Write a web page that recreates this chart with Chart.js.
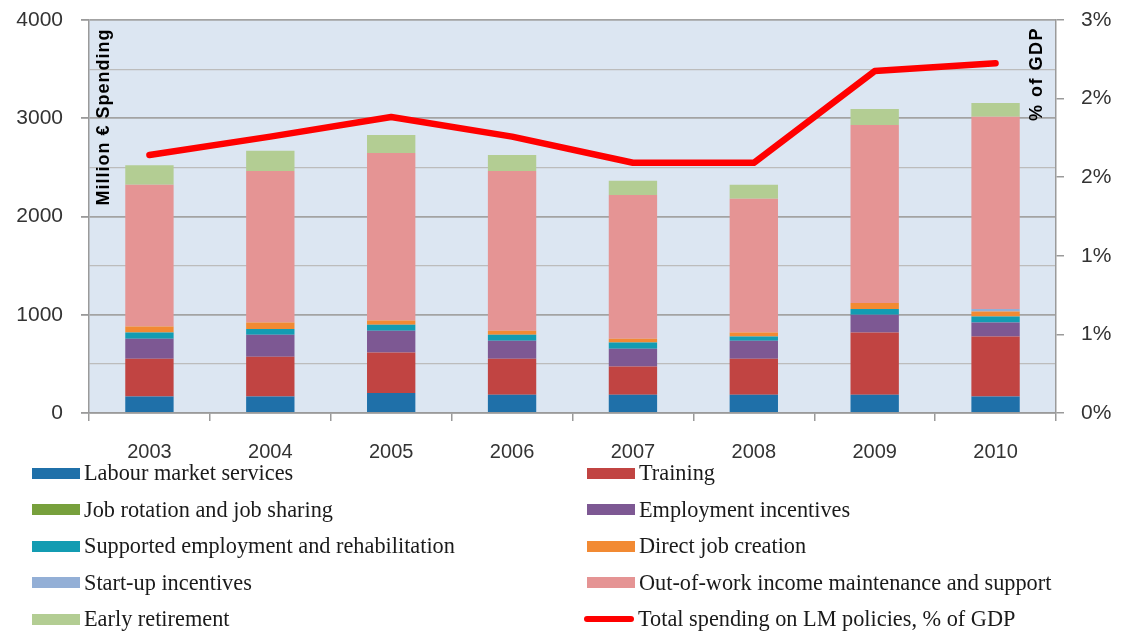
<!DOCTYPE html>
<html>
<head>
<meta charset="utf-8">
<script src="https://cdn.jsdelivr.net/npm/chart.js@4"></script>
<style>
  html, body { margin: 0; padding: 0; background: #fff; }
  #wrap { position: relative; width: 1121px; height: 632px; overflow: hidden; }
  #chart { position: absolute; left: 0; top: 0; }
  #legend { position: absolute; left: 0; top: 455px; width: 1121px; height: 177px;
            font-family: "Liberation Serif", "Times New Roman", serif; font-size: 22.3px; color: #1a1a1a; }
  .item { position: absolute; height: 36px; display: flex; align-items: center; white-space: nowrap; }
  .box { display: inline-block; width: 48px; height: 11px; margin-right: 4px; }
  .ln { display: inline-block; width: 50px; height: 6px; border-radius: 3px; margin-right: 4px; }
</style>
</head>
<body>
<div id="wrap">
  <canvas id="chart" width="1121" height="470"></canvas>
  <div id="legend"></div>
</div>
<script>
// 年份
const years = ['2003', '2004', '2005', '2006', '2007', '2008', '2009', '2010'];

// 各類支出 (百萬歐元)，由下往上堆疊
const labourMarketServices = [169, 169, 203, 186, 186, 186, 186, 169];
const training             = [383, 404, 413, 366, 288, 366, 634, 610];
const jobRotation          = [0, 0, 0, 0, 0, 0, 0, 0];
const employmentIncentives = [204, 223, 221, 183, 180, 183, 180, 142];
const supportedEmployment  = [64, 58, 61, 61, 64, 44, 58, 61];
const directJobCreation    = [61, 67, 44, 41, 38, 41, 61, 51];
const startUpIncentives    = [0, 0, 0, 0, 0, 0, 0, 25];
const outOfWorkIncome      = [1441, 1543, 1705, 1627, 1464, 1360, 1813, 1958];
const earlyRetirement      = [200, 204, 183, 163, 143, 142, 163, 140];

// 總支出占 GDP 百分比 (右軸)
const totalPctGdp = [1.97, 2.11, 2.26, 2.11, 1.91, 1.91, 2.61, 2.67];

// 軸刻度
const leftTicks = [0, 500, 1000, 1500, 2000, 2500, 3000, 3500, 4000];
const rightTicks = [0, 0.6, 1.2, 1.8, 2.4, 3.0];

const barSeries = [
  ['Labour market services', labourMarketServices, '#1f70a9'],
  ['Training', training, '#c14442'],
  ['Job rotation and job sharing', jobRotation, '#77a03c'],
  ['Employment incentives', employmentIncentives, '#7d5893'],
  ['Supported employment and rehabilitation', supportedEmployment, '#139cb2'],
  ['Direct job creation', directJobCreation, '#f28a33'],
  ['Start-up incentives', startUpIncentives, '#93afd6'],
  ['Out-of-work income maintenance and support', outOfWorkIncome, '#e59494'],
  ['Early retirement', earlyRetirement, '#b3cd93']
];

const datasets = barSeries.map(([label, data, color]) => ({
  type: 'bar', label: label, data: data, backgroundColor: color,
  yAxisID: 'y', stack: 's', order: 1,
  barPercentage: 0.4, categoryPercentage: 1
}));
datasets.push({
  type: 'line', label: 'Total spending on LM policies, % of GDP', data: totalPctGdp,
  borderColor: '#ff0000', backgroundColor: '#ff0000', borderWidth: 6.5,
  borderCapStyle: 'round', borderJoinStyle: 'round',
  pointRadius: 0, tension: 0, yAxisID: 'y1', order: 0
});

// 畫區背景 + 軸內標題
function vText(ctx, txt, x, y, spacing) {
  ctx.save();
  ctx.fillStyle = '#000';
  ctx.font = 'bold 18px "Liberation Sans", Arial, sans-serif';
  ctx.letterSpacing = spacing + 'px';
  ctx.textAlign = 'center';
  ctx.textBaseline = 'middle';
  ctx.translate(x, y);
  ctx.rotate(-Math.PI / 2);
  ctx.fillText(txt, 0, 0);
  ctx.restore();
}

const plotDeco = {
  id: 'plotDeco',
  beforeDraw(chart) {
    const { ctx, chartArea: a } = chart;
    ctx.save();
    ctx.fillStyle = '#dce6f2';
    ctx.fillRect(a.left, a.top, a.right - a.left, a.bottom - a.top);
    ctx.restore();
  },
  afterDatasetsDraw(chart) {
    vText(chart.ctx, 'Million € Spending', 104, 117, 1);
    vText(chart.ctx, '% of GDP', 1037, 74, 1.5);
  }
};

const tickFont = { family: '"Liberation Sans", Arial, sans-serif', size: 21 };

const chart = new Chart(document.getElementById('chart'), {
  data: { labels: years, datasets: datasets },
  plugins: [plotDeco],
  options: {
    responsive: false,
    animation: false,
    layout: { padding: { top: 20, left: 0, right: 0, bottom: 0 } },
    plugins: { legend: { display: false }, tooltip: { enabled: false } },
    scales: {
      x: {
        stacked: true,
        offset: true,
        grid: { offset: true, drawOnChartArea: false, tickLength: 8, color: '#9a9a9a', lineWidth: 1.5 },
        border: { color: '#9a9a9a', width: 1.5 },
        ticks: { color: '#333', font: { ...tickFont, size: 20 }, padding: 19 },
        afterFit(s) { s.height = 57; }
      },
      y: {
        stacked: true,
        position: 'left',
        min: 0, max: 4000,
        afterBuildTicks(s) { s.ticks = leftTicks.map(v => ({ value: v })); },
        grid: {
          color: c => (c.tick && c.tick.value % 1000 === 0) ? '#a3a3a3' : '#bcbcbc',
          lineWidth: c => (c.tick && c.tick.value % 1000 === 0) ? 1.8 : 1.2,
          tickColor: c => (c.tick && c.tick.value % 1000 === 0) ? '#9a9a9a' : 'rgba(0,0,0,0)',
          tickLength: 8
        },
        border: { color: '#9a9a9a', width: 1.5 },
        ticks: {
          color: '#333', font: tickFont, padding: 18,
          callback: v => (v % 1000 === 0 ? String(v) : '')
        },
        afterFit(s) { s.width = 89; s.paddingTop = 0; s.paddingBottom = 0; }
      },
      y1: {
        position: 'right',
        min: 0, max: 3,
        afterBuildTicks(s) { s.ticks = rightTicks.map(v => ({ value: v })); },
        grid: { drawOnChartArea: false, tickLength: 8, color: '#9a9a9a', lineWidth: 1.5 },
        border: { color: '#9a9a9a', width: 1.5 },
        ticks: { color: '#333', font: tickFont, padding: 17, callback: v => Math.round(v) + '%' },
        afterFit(s) { s.width = 65; s.paddingTop = 0; s.paddingBottom = 0; }
      }
    }
  }
});

// 圖例：兩欄，依資料集順序排列
const legendEl = document.getElementById('legend');
chart.data.datasets.forEach((ds, i) => {
  const col = i % 2, row = Math.floor(i / 2);
  const item = document.createElement('div');
  item.className = 'item';
  item.style.left = (col === 0 ? 32 : 584) + 'px';
  item.style.top = (row * 36.5) + 'px';
  const mark = document.createElement('span');
  if (ds.type === 'line') {
    mark.className = 'ln';
    mark.style.background = ds.borderColor;
  } else {
    mark.className = 'box';
    mark.style.background = ds.backgroundColor;
    if (col === 1) mark.style.marginLeft = '3px';
  }
  item.appendChild(mark);
  item.appendChild(document.createTextNode(ds.label));
  legendEl.appendChild(item);
});
</script>
</body>
</html>
